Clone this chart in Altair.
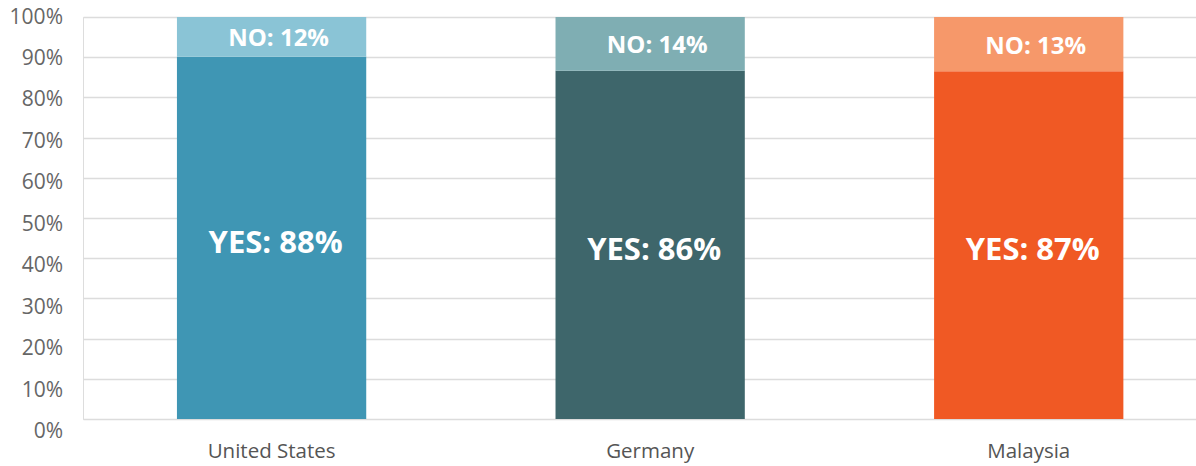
import altair as alt
import pandas as pd

# ---- data ----
countries = ["United States", "Germany", "Malaysia"]
yes_share = [90.1, 86.6, 86.5]      # drawn height of the YES segment (%)
no_share = [9.9, 13.4, 13.5]        # drawn height of the NO segment (%)
yes_label = [88, 86, 87]            # printed YES values
no_label = [12, 14, 13]             # printed NO values
yes_colors = ["#3F96B4", "#3E666B", "#F05924"]
no_colors = ["#8AC4D6", "#7FAEB3", "#F6986A"]
tick_values = [0, 10, 20, 30, 40, 50, 60, 70, 80, 90, 100]
tick_labels = [f"{v}%" for v in tick_values]

rows = []
for i, c in enumerate(countries):
    rows.append({"country": c, "seg": "YES", "ord": 0, "value": yes_share[i],
                 "key": c + "|YES", "label": f"YES: {yes_label[i]}%"})
    rows.append({"country": c, "seg": "NO", "ord": 1, "value": no_share[i],
                 "key": c + "|NO", "label": f"NO: {no_label[i]}%"})
df = pd.DataFrame(rows)

keys = [c + "|YES" for c in countries] + [c + "|NO" for c in countries]
key_colors = yes_colors + no_colors

FONT = "Open Sans"

x_enc = alt.X(
    "country:N",
    sort=countries,
    scale=alt.Scale(paddingInner=0.5, paddingOuter=0.22, align=0.564),
    axis=alt.Axis(title=None, labelAngle=0, labelFont=FONT, labelFontSize=20.5,
                  labelColor="#555555", ticks=False, domain=False,
                  labelPadding=22, grid=False),
)

base = alt.Chart(df).transform_stack(
    stack="value", groupby=["country"], as_=["y0", "y1"],
    sort=[alt.SortField("ord", order="ascending")],
).transform_calculate(mid="(datum.y0 + datum.y1) / 2")

y_main = alt.Y(
    "y0:Q",
    scale=alt.Scale(domain=[0, 100], nice=False, zero=True),
    axis=alt.Axis(title=None, values=tick_values, labels=False, ticks=False,
                  domain=False, grid=True, gridColor="#DCDCDC", gridWidth=1.3),
)

bars = base.mark_bar().encode(
    x=x_enc,
    y=y_main,
    y2="y1:Q",
    color=alt.Color("key:N", scale=alt.Scale(domain=keys, range=key_colors), legend=None),
)

yes_text = base.transform_filter(alt.datum.seg == "YES").mark_text(
    font=FONT, fontWeight="bold", fontSize=31, color="white", dx=4, dy=6, baseline="middle"
).encode(x=alt.X("country:N", sort=countries), y=alt.Y("mid:Q"), text="label:N")

no_text = base.transform_filter(alt.datum.seg == "NO").mark_text(
    font=FONT, fontWeight="bold", fontSize=24, color="white", dx=7, dy=2.5, baseline="middle"
).encode(x=alt.X("country:N", sort=countries), y=alt.Y("mid:Q"), text="label:N")

plot = alt.layer(bars, yes_text, no_text)

ticks_df = pd.DataFrame({"v": tick_values, "t": tick_labels})
ylabels = alt.Chart(ticks_df).mark_text(
    font=FONT, fontSize=21, color="#666666", align="right", baseline="middle"
).encode(
    x=alt.value(-20),
    y=alt.Y("v:Q", scale=alt.Scale(domain=[0, 100], range=[415, 0.5], nice=False), axis=None),
    text="t:N",
)

chart = alt.layer(plot, ylabels).resolve_scale(y="independent").properties(
    width=1113, height=402,
    padding={"left": 83, "top": 17, "right": 0, "bottom": 47},
    autosize=alt.AutoSizeParams(type="none"),
).configure_view(stroke=None).configure(background="white")

chart.save("out.html", embed_options={"renderer": "svg", "actions": False})
